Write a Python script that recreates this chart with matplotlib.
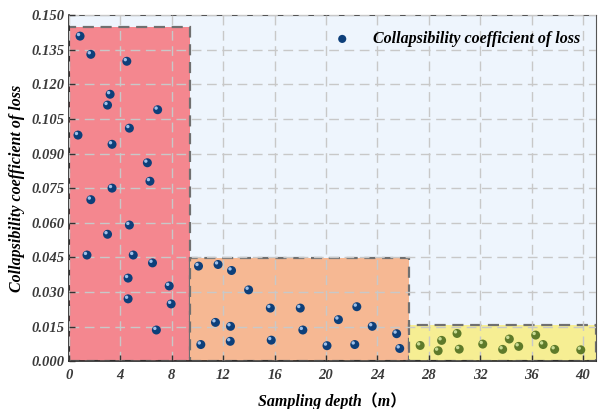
import numpy as np
import matplotlib
matplotlib.use("Agg")
from matplotlib import pyplot as plt
from matplotlib.patches import Rectangle

# zones: x start, x end, height, colour
zone_x0 = [0.0, 9.45, 26.5]
zone_x1 = [9.45, 26.5, 41.0]
zone_h = [0.1448, 0.0448, 0.0158]
zone_col = ['#f4878f', '#f6b893', '#f6ee93']

# red zone points
red_x = [0.86, 1.7, 4.5, 3.2, 3.0, 6.9, 0.7, 4.7, 3.35, 6.1, 6.3, 3.35, 1.7,
         4.7, 3.0, 1.4, 5.0, 6.5, 4.6, 7.8, 4.6, 7.95, 6.8]
red_y = [0.1409, 0.1330, 0.1300, 0.1157, 0.1110, 0.1090, 0.0980, 0.1010, 0.0940,
         0.0860, 0.0780, 0.0750, 0.0700, 0.0590, 0.0550, 0.0460, 0.0460, 0.0426,
         0.0360, 0.0326, 0.0270, 0.0248, 0.0135]

# orange zone points
org_x = [10.08, 11.6, 12.65, 13.98, 15.67, 18.0, 22.4, 11.4, 12.57, 20.97, 18.2,
         23.6, 25.5, 10.26, 12.55, 15.74, 20.08, 22.24, 25.74]
org_y = [0.0412, 0.0419, 0.0393, 0.0309, 0.0230, 0.0230, 0.0236, 0.0168, 0.0151,
         0.0180, 0.0135, 0.0151, 0.0119, 0.0072, 0.0086, 0.0091, 0.0067, 0.0072,
         0.0055]

# yellow zone points
yel_x = [27.33, 28.73, 29.0, 30.2, 30.37, 32.2, 33.75, 34.27, 35.0, 36.32, 36.9,
         37.8, 39.83]
yel_y = [0.0068, 0.0045, 0.0090, 0.0120, 0.0052, 0.0074, 0.0051, 0.0096, 0.0064,
         0.0113, 0.0072, 0.0051, 0.0049]

xticks = [0, 4, 8, 12, 16, 20, 24, 28, 32, 36, 40]
yticks = [0.000, 0.015, 0.030, 0.045, 0.060, 0.075, 0.090, 0.105, 0.120, 0.135, 0.150]

serif = ['Liberation Serif', 'Noto Sans CJK SC']
plt.rcParams['font.family'] = serif

fig = plt.figure(figsize=(6.0, 4.09), dpi=100)
ax = fig.add_axes([0.115, 0.117, 0.878, 0.846])
ax.set_facecolor('#eef5fd')

for x0, x1, h, c in zip(zone_x0, zone_x1, zone_h, zone_col):
    ax.add_patch(Rectangle((x0, 0), x1 - x0, h, facecolor=c, edgecolor='#707070',
                           lw=1.6, ls=(0, (5, 3)), zorder=1))

ax.grid(True, color='#c8c8c8', ls=(0, (7, 4)), lw=1.0, zorder=2)
ax.set_axisbelow(False)


def balls(xs, ys, dark, light, label=None):
    ax.scatter(xs, ys, s=42, color=dark, edgecolors='none', zorder=4, label=label)
    ax.scatter(np.array(xs) - 0.12, np.array(ys) + 0.0007, s=6, color=light,
               edgecolors='none', zorder=5)


balls(red_x, red_y, '#0d3f7a', '#9fc0e8', 'Collapsibility coefficient of loss')
balls(org_x, org_y, '#0d3f7a', '#9fc0e8')
balls(yel_x, yel_y, '#5e7a2a', '#c9dc94')

ax.set_xlim(0, 41)
ax.set_ylim(0, 0.150)
ax.set_xticks(xticks)
ax.set_yticks(yticks)
ax.set_yticklabels(['%.3f' % v for v in yticks])
ax.tick_params(direction='in', length=4, width=1, colors='#333333', labelsize=10.5)
ax.tick_params(axis='x', pad=6)
for lab in ax.get_xticklabels() + ax.get_yticklabels():
    lab.set_fontweight('bold')
    lab.set_fontstyle('italic')
    lab.set_color('#3a3a3a')
for sp in ['left', 'bottom']:
    ax.spines[sp].set_color('#222222')
    ax.spines[sp].set_linewidth(1.2)
for sp in ['top', 'right']:
    ax.spines[sp].set_color('#555555')

ax.set_xlabel('Sampling depth（m）', fontsize=11.5, fontweight='bold', fontstyle='italic',
              labelpad=7)
ax.set_ylabel('Collapsibility coefficient of loss', fontsize=11.5, fontweight='bold',
              fontstyle='italic', labelpad=4)

leg = ax.legend(loc='upper right', frameon=False, fontsize=11.5, handletextpad=0.9,
                markerscale=0.9, borderaxespad=0.6)
for t in leg.get_texts():
    t.set_fontweight('bold')
    t.set_fontstyle('italic')

fig.savefig('out.png', dpi=100)
